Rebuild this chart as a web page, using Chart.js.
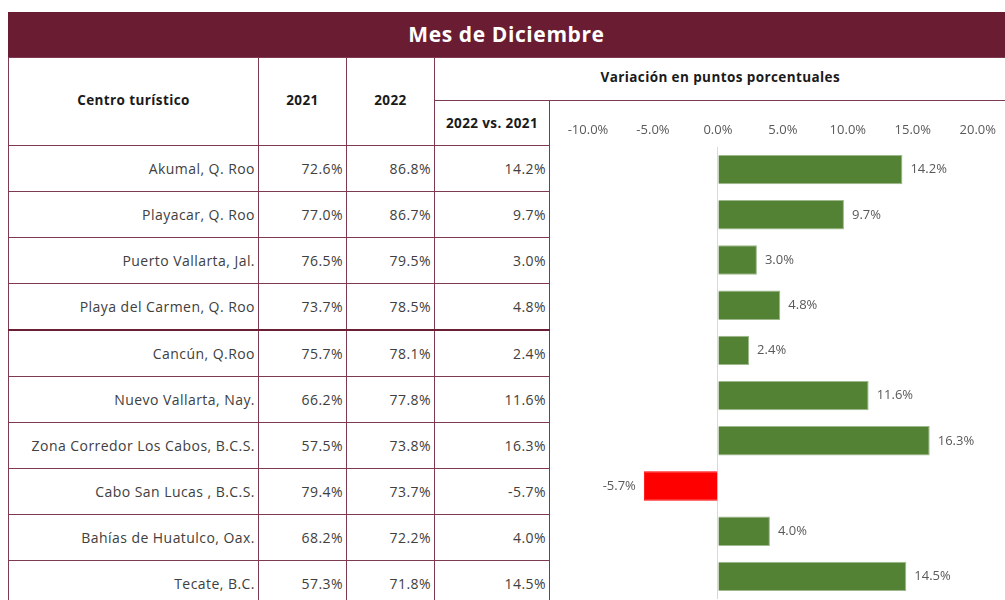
<!DOCTYPE html>
<html>
<head>
<meta charset="UTF-8">
<script src="https://cdn.jsdelivr.net/npm/chart.js"></script>
<style>
    body { margin: 0; background: #fff; font-family: "Open Sans", sans-serif; }
    #titulo {
        position: absolute; left: 8px; top: 12px; width: 997px; height: 45px;
        background: #691C32; color: #fff; font-weight: bold; font-size: 21px;
        line-height: 44px; text-align: center; letter-spacing: 0.6px;
    }
    #tabla {
        position: absolute; left: 8px; top: 57px; border-collapse: collapse;
        table-layout: fixed; width: 997px; color: #404040;
    }
    #tabla th, #tabla td { border: 1px solid #7E3A50; padding: 0 3px; overflow: hidden; white-space: nowrap; }
    #tabla th { font-weight: bold; font-size: 13.5px; color: #1a1a1a; letter-spacing: 0.4px; padding-bottom: 4px; }
    #tabla th.sub { padding-bottom: 0; }
    #tabla td { font-size: 14px; text-align: right; height: 45px; letter-spacing: 0.45px; }
    #tabla td.grafica, #tabla th.grafica { border: none; }
    #tabla tr.grueso td { border-top: 2px solid #6B1F35; }
    #tabla tr.grueso td.grafica { border-top: none; }
    #grafica { position: absolute; left: 549px; top: 100px; pointer-events: none; }
</style>
</head>
<body>
<div id="titulo">Mes de Diciembre</div>
<table id="tabla">
    <colgroup>
        <col style="width:250px"><col style="width:88px"><col style="width:88px"><col style="width:115px"><col style="width:456px">
    </colgroup>
    <thead>
        <tr style="height:43px">
            <th rowspan="2">Centro turístico</th>
            <th rowspan="2">2021</th>
            <th rowspan="2">2022</th>
            <th colspan="2" style="border-right:none">Variación en puntos porcentuales</th>
        </tr>
        <tr style="height:45px">
            <th class="sub">2022 vs. 2021</th>
            <th class="grafica"></th>
        </tr>
    </thead>
    <tbody id="filas"></tbody>
</table>
<canvas id="grafica" width="456" height="500"></canvas>

<script>
    const centros = [
        "Akumal, Q. Roo",
        "Playacar, Q. Roo",
        "Puerto Vallarta, Jal.",
        "Playa del Carmen, Q. Roo",
        "Cancún, Q.Roo",
        "Nuevo Vallarta, Nay.",
        "Zona Corredor Los Cabos, B.C.S.",
        "Cabo San Lucas , B.C.S.",
        "Bahías de Huatulco, Oax.",
        "Tecate, B.C."
    ];
    const ocupacion2021 = [72.6, 77.0, 76.5, 73.7, 75.7, 66.2, 57.5, 79.4, 68.2, 57.3];
    const ocupacion2022 = [86.8, 86.7, 79.5, 78.5, 78.1, 77.8, 73.8, 73.7, 72.2, 71.8];
    const variacion = [14.2, 9.7, 3.0, 4.8, 2.4, 11.6, 16.3, -5.7, 4.0, 14.5];
    const ejeMin = -10;
    const ejeMax = 20;
    const ejePaso = 5;

    function pct(v) {
        return v.toFixed(1) + '%';
    }

    const filas = document.getElementById('filas');
    centros.forEach((c, i) => {
        const tr = document.createElement('tr');
        if (i === 4) tr.className = 'grueso';
        tr.innerHTML = '<td>' + c + '</td><td>' + pct(ocupacion2021[i]) + '</td><td>' +
            pct(ocupacion2022[i]) + '</td><td>' + pct(variacion[i]) + '</td><td class="grafica"></td>';
        filas.appendChild(tr);
    });

    // etiquetas de valor junto a cada barra
    const etiquetas = {
        id: 'etiquetas',
        afterDatasetsDraw(chart) {
            const ctx = chart.ctx;
            const meta = chart.getDatasetMeta(0);
            ctx.save();
            ctx.font = '13px "Open Sans", sans-serif';
            ctx.fillStyle = '#595959';
            ctx.textBaseline = 'middle';
            meta.data.forEach((bar, i) => {
                const v = variacion[i];
                if (v >= 0) {
                    ctx.textAlign = 'left';
                    ctx.fillText(pct(v), bar.x + 8, bar.y);
                } else {
                    ctx.textAlign = 'right';
                    ctx.fillText(pct(v), bar.x - 8, bar.y);
                }
            });
            ctx.restore();
        }
    };

    new Chart(document.getElementById('grafica'), {
        type: 'bar',
        data: {
            labels: centros,
            datasets: [{
                data: variacion,
                backgroundColor: variacion.map(v => v < 0 ? '#FF0000' : '#548235'),
                borderColor: variacion.map(v => v < 0 ? '#FF0000' : '#9DB88A'),
                borderWidth: 1,
                categoryPercentage: 1,
                barPercentage: 0.65
            }]
        },
        options: {
            indexAxis: 'y',
            responsive: false,
            animation: false,
            layout: { padding: { left: 39, right: 27, top: 0, bottom: 1 } },
            plugins: { legend: { display: false }, tooltip: { enabled: false } },
            scales: {
                x: {
                    position: 'top',
                    min: ejeMin,
                    max: ejeMax,
                    ticks: {
                        stepSize: ejePaso,
                        padding: 9,
                        color: '#595959',
                        font: { size: 13, family: '"Open Sans", sans-serif' },
                        callback: v => pct(v)
                    },
                    grid: {
                        drawTicks: false,
                        color: ctx => ctx.tick && ctx.tick.value === 0 ? '#D9D9D9' : 'transparent'
                    },
                    border: { display: false },
                    afterFit: s => { s.height = 47; }
                },
                y: { display: false }
            }
        },
        plugins: [etiquetas]
    });
</script>
</body>
</html>
